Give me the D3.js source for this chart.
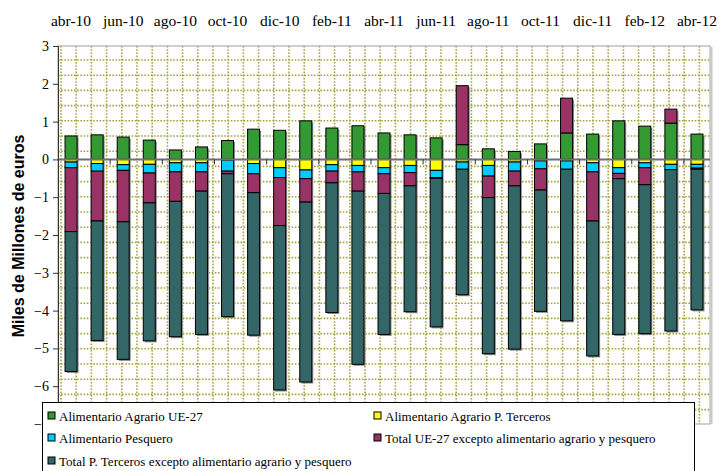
<!DOCTYPE html>
<html>
<head>
<meta charset="utf-8">
<script src="https://cdn.jsdelivr.net/npm/d3@7"></script>
<style>
  body { margin: 0; background: #fff; }
</style>
</head>
<body>
<div id="chart"></div>
<script>
// months shown on the chart (one bar each)
var months = ["abr-10","may-10","jun-10","jul-10","ago-10","sep-10","oct-10","nov-10","dic-10","ene-11",
  "feb-11","mar-11","abr-11","may-11","jun-11","jul-11","ago-11","sep-11","oct-11","nov-11",
  "dic-11","ene-12","feb-12","mar-12","abr-12"]

// series values, miles de millones de euros
var agrarioUE = [0.62,0.65,0.59,0.51,0.25,0.33,0.50,0.80,0.77,1.02,0.83,0.89,0.70,0.65,0.57,0.39,0.28,0.21,0.41,0.70,0.67,1.02,0.88,0.96,0.67]
var agrarioTerceros = [-0.07,-0.11,-0.14,-0.13,-0.09,-0.09,-0.02,-0.11,-0.22,-0.28,-0.14,-0.16,-0.22,-0.16,-0.29,-0.07,-0.16,-0.07,-0.04,-0.04,-0.09,-0.22,-0.09,-0.13,-0.13]
var pesquero = [-0.15,-0.20,-0.15,-0.23,-0.24,-0.24,-0.29,-0.27,-0.26,-0.23,-0.17,-0.17,-0.16,-0.19,-0.19,-0.19,-0.28,-0.24,-0.21,-0.22,-0.24,-0.15,-0.13,-0.14,-0.10]
var totalUE = [-1.69,-1.32,-1.36,-0.79,-0.78,-0.51,-0.07,-0.50,-1.27,-0.62,-0.31,-0.51,-0.52,-0.35,-0.02,1.56,-0.57,-0.39,-0.56,0.92,-1.30,-0.14,-0.45,0.37,-0.03]
var totalTerceros = [-3.70,-3.16,-3.64,-3.65,-3.58,-3.79,-3.78,-3.77,-4.35,-4.76,-3.43,-4.58,-3.73,-3.33,-3.93,-3.32,-4.13,-4.32,-3.21,-4.01,-3.57,-4.12,-3.94,-4.27,-3.72]

var yTicks = [3,2,1,0,-1,-2,-3,-4,-5,-6,-7]

var seriesNames = ["Alimentario Agrario UE-27","Alimentario Agrario P. Terceros","Alimentario Pesquero",
  "Total UE-27 excepto alimentario agrario y pesquero","Total P. Terceros excepto alimentario agrario y pesquero"]
var seriesColors = ["#339933","#ffff00","#00ccff","#993366","#336666"]

var W = 720, H = 471
var margin = {top: 46, right: 10, bottom: 47, left: 58}
var width = W - margin.left - margin.right,
    height = H - margin.top - margin.bottom

// build rows for the stack
var keys = ["a","b","c","d","e"]
var data = months.map(function(m, i){
  return {month: m, a: agrarioUE[i], b: agrarioTerceros[i], c: pesquero[i], d: totalUE[i], e: totalTerceros[i]}
})

var svg = d3.select("#chart").append("svg")
  .attr("width", W).attr("height", H)

var g = svg.append("g")
  .attr("transform", "translate(" + margin.left + "," + margin.top + ")")

var x = d3.scaleBand().domain(months).range([0, width]).paddingInner(0.54).paddingOuter(0.27)
var y = d3.scaleLinear().domain([-7, 3]).range([height, 0])
var color = d3.scaleOrdinal().domain(keys).range(seriesColors)

// dotted grid pattern of the plot area
var step = 15.2
var grid = g.append("g")
d3.range(3, width, step).forEach(function(px){
  grid.append("line").attr("x1", px).attr("x2", px).attr("y1", 0).attr("y2", height)
})
d3.range(14, height, step).forEach(function(py){
  grid.append("line").attr("x1", 0).attr("x2", width).attr("y1", py).attr("y2", py)
})
grid.selectAll("line")
  .attr("stroke", "#a3a340")
  .attr("stroke-width", 1.6)
  .attr("stroke-dasharray", "1.6,1.6")

// plot frame
g.append("rect").attr("x", 0).attr("y", 0).attr("width", width).attr("height", height)
  .attr("fill", "none").attr("stroke", "#a0a0a0").attr("stroke-width", 1)
g.append("line").attr("x1", width + 1.5).attr("x2", width + 1.5).attr("y1", 1).attr("y2", height)
  .attr("stroke", "#c8c8c8").attr("stroke-width", 2)

var stacked = d3.stack().keys(keys).offset(d3.stackOffsetDiverging)(data)

// bar shadows
g.append("g").selectAll("rect")
  .data(data)
  .enter().append("rect")
    .attr("x", function(d){ return x(d.month) + 1.5 })
    .attr("y", function(d){ return y(d3.sum(keys, function(k){ return Math.max(0, d[k]) })) + 1.5 })
    .attr("width", x.bandwidth())
    .attr("height", function(d){
      var pos = d3.sum(keys, function(k){ return Math.max(0, d[k]) })
      var neg = d3.sum(keys, function(k){ return Math.min(0, d[k]) })
      return y(neg) - y(pos)
    })
    .attr("fill", "#8a8a8a")

// bars
g.append("g")
  .selectAll("g")
  .data(stacked)
  .enter().append("g")
    .attr("fill", function(d){ return color(d.key) })
    .selectAll("rect")
    .data(function(d){ return d })
    .enter().append("rect")
      .attr("x", function(d){ return x(d.data.month) })
      .attr("y", function(d){ return y(d[1]) })
      .attr("height", function(d){ return y(d[0]) - y(d[1]) })
      .attr("width", x.bandwidth())
      .attr("stroke", "#000")
      .attr("stroke-width", 1)

// zero line with category ticks
g.append("line").attr("x1", 0).attr("x2", width).attr("y1", y(0)).attr("y2", y(0))
  .attr("stroke", "#707070").attr("stroke-width", 2)
var step2 = x.step()
g.append("g").selectAll("line")
  .data(d3.range(2, months.length, 2))
  .enter().append("line")
    .attr("x1", function(i){ return x(months[i]) - x.paddingInner() * step2 / 2 })
    .attr("x2", function(i){ return x(months[i]) - x.paddingInner() * step2 / 2 })
    .attr("y1", y(0)).attr("y2", y(0) + 5)
    .attr("stroke", "#333").attr("stroke-width", 1)

// y axis
var yAxis = g.append("g")
  .call(d3.axisLeft(y).tickValues(yTicks).tickSize(5).tickFormat(d3.format("d")))
yAxis.select(".domain").attr("stroke", "#333")
yAxis.selectAll(".tick line").attr("stroke", "#333")
yAxis.selectAll("text")
  .attr("font-family", "'Liberation Serif', 'Times New Roman', serif")
  .attr("font-size", "14px").attr("fill", "#000").attr("x", -9)

// month labels on top
var topAxis = svg.append("g")
  .attr("transform", "translate(" + margin.left + ",26)")
  .call(d3.axisTop(x).tickValues(months.filter(function(m, i){ return i % 2 === 0 })).tickSize(0).tickPadding(0))
topAxis.select(".domain").remove()
topAxis.selectAll("text")
  .attr("font-family", "'Liberation Serif', 'Times New Roman', serif")
  .attr("font-size", "15.5px").attr("fill", "#000").attr("dy", 0)

// y title
svg.append("text")
  .attr("transform", "translate(24,236) rotate(-90)")
  .attr("text-anchor", "middle")
  .attr("font-family", "'Liberation Sans', Arial, sans-serif")
  .attr("font-weight", "bold")
  .attr("font-size", "16px")
  .text("Miles de Millones de euros")

// legend
var legend = svg.append("g").attr("transform", "translate(42,402)")
legend.append("rect").attr("x", 0.5).attr("y", 0.5).attr("width", 652).attr("height", 80)
  .attr("fill", "#fff").attr("stroke", "#000").attr("stroke-width", 1)
var legPos = [[6,14],[332,14],[6,36],[332,36],[6,59]]
var item = legend.selectAll(".item")
  .data(seriesNames)
  .enter().append("g")
    .attr("class", "item")
    .attr("transform", function(d, i){ return "translate(" + legPos[i][0] + "," + legPos[i][1] + ")" })
item.append("rect")
  .attr("x", 0).attr("y", -4).attr("width", 7).attr("height", 7)
  .attr("fill", function(d, i){ return seriesColors[i] })
  .attr("stroke", "#000").attr("stroke-width", 1)
item.append("text")
  .attr("x", 11).attr("y", 0).attr("dy", "0.35em")
  .attr("font-family", "'Liberation Serif', 'Times New Roman', serif")
  .attr("font-size", "13px")
  .text(function(d){ return d })
</script>
</body>
</html>
